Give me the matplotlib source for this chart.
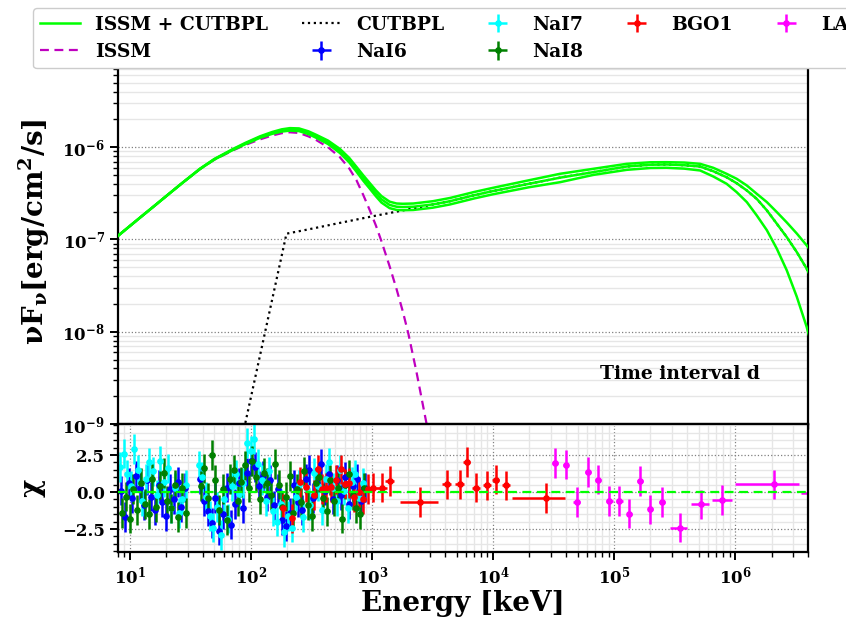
import matplotlib
matplotlib.use("Agg")
import matplotlib.pyplot as plt
import numpy as np

# ---------------- data ----------------
# model curves: energies (keV) and log10(nuFnu [erg/cm^2/s])
green_e = [8, 10, 12.5, 16, 20, 27, 38, 50, 71, 90, 119, 150, 180, 210, 250, 300, 350,
           434, 544, 650, 747, 850, 962, 1080, 1200, 1400, 1600, 1800, 2200, 3190, 4420,
           7000, 1e4, 2e4, 3.58e4, 6.74e4, 1.27e5, 2e5, 2.72e5, 3.8e5, 5.14e5, 6.6e5,
           8.5e5, 1.03e6, 1.25e6, 1.51e6, 1.83e6, 2.21e6, 2.67e6, 3.23e6, 3.9e6, 4.2e6]
green_mid = [-6.96, -6.855, -6.75, -6.635, -6.53, -6.39, -6.235, -6.13, -6.025, -5.96,
             -5.89, -5.845, -5.818, -5.806, -5.81, -5.843, -5.885, -5.947, -6.04, -6.14,
             -6.24, -6.335, -6.42, -6.50, -6.565, -6.625, -6.645, -6.648, -6.645, -6.62,
             -6.585, -6.52, -6.475, -6.395, -6.33, -6.27, -6.209, -6.19, -6.187, -6.195,
             -6.209, -6.26, -6.325, -6.39, -6.469, -6.56, -6.685, -6.829, -6.974, -7.136,
             -7.316, -7.40]
green_up = [-6.96, -6.855, -6.75, -6.635, -6.53, -6.39, -6.233, -6.127, -6.02, -5.953,
            -5.882, -5.835, -5.806, -5.793, -5.796, -5.828, -5.868, -5.928, -6.018, -6.116,
            -6.214, -6.306, -6.39, -6.468, -6.53, -6.59, -6.61, -6.613, -6.61, -6.585,
            -6.55, -6.485, -6.44, -6.357, -6.288, -6.234, -6.18, -6.163, -6.162, -6.166,
            -6.18, -6.223, -6.288, -6.342, -6.415, -6.505, -6.595, -6.703, -6.815, -6.935,
            -7.064, -7.12]
green_lo = [-6.96, -6.855, -6.75, -6.635, -6.53, -6.39, -6.237, -6.133, -6.03, -5.967,
            -5.898, -5.855, -5.83, -5.82, -5.825, -5.858, -5.90, -5.965, -6.062, -6.164,
            -6.266, -6.364, -6.45, -6.532, -6.60, -6.66, -6.68, -6.683, -6.68, -6.655,
            -6.62, -6.555, -6.51, -6.433, -6.379, -6.30, -6.245, -6.225, -6.223, -6.232,
            -6.252, -6.317, -6.396, -6.487, -6.595, -6.74, -6.90, -7.10, -7.334, -7.62,
            -7.948, -8.10]

issm_e = [8, 10, 12.5, 16, 20, 27, 38, 50, 71, 90, 119, 150, 180, 210, 250, 300, 350,
          434, 544, 650, 747, 850, 962, 1080, 1200, 1400, 1600, 1800, 2000, 2330, 2830, 3200]
issm_v = [-6.96, -6.855, -6.75, -6.635, -6.53, -6.39, -6.237, -6.135, -6.035, -5.975,
          -5.915, -5.873, -5.848, -5.838, -5.845, -5.883, -5.925, -6.0, -6.108, -6.23,
          -6.36, -6.52, -6.685, -6.85, -7.02, -7.29, -7.54, -7.78, -8.02, -8.43, -9.0, -9.4]

cut_e = [80, 197, 300, 500, 1000, 1800, 3190, 4420, 7000, 1e4, 2e4, 3.58e4, 6.74e4,
         1.27e5, 2e5, 2.72e5, 3.8e5, 5.14e5, 6.6e5, 8.5e5, 1.03e6, 1.25e6, 1.51e6,
         1.83e6, 2.21e6, 2.67e6, 3.23e6, 3.9e6, 4.2e6]
cut_v = [-9.3, -6.937, -6.89, -6.83, -6.75, -6.685, -6.62, -6.585, -6.52, -6.475, -6.395,
         -6.33, -6.27, -6.209, -6.19, -6.187, -6.195, -6.209, -6.26, -6.325, -6.39, -6.469,
         -6.56, -6.685, -6.829, -6.974, -7.136, -7.316, -7.40]

# residuals (chi)
nai6_e = [8.5, 9.1, 9.8, 10.5, 11.3, 12.1, 13.0, 14.0, 15.0, 16.1, 17.3, 18.6, 20.0, 21.5,
          23.1, 24.8, 26.6, 28.6,
          38, 41, 44, 47.5, 51, 55, 59, 63.5, 68.5, 74, 80, 86, 93, 100, 108, 116, 125,
          135, 145, 156, 168, 181, 195, 210, 226, 244, 263, 283, 305, 329, 354, 382, 412,
          444, 478, 515, 555, 598, 645, 695, 749, 807, 870]
nai6_r = [0.1, -1.7, 0.6, -0.4, 1.1, 0.3, -0.9, 0.8, -0.3, -1.2, 0.5, -0.7, -1.6, 0.2,
          -0.5, 0.7, -1.0, 0.3,
          0.9, -0.6, -1.3, -2.1, -0.4, -2.6, -1.5, 0.3, -2.2, -0.8, 0.6, -1.1, 1.3, 2.1,
          1.7, 0.4, 1.1, -0.3, 0.8, -0.9, 0.2, -1.9, -2.3, -1.4, 0.5, -0.7, -1.2, 0.9, 1.5,
          -0.4, 0.6, 1.9, 0.1, 1.2, -0.5, 0.8, -0.2, 1.0, -0.8, 0.4, 0.9, -0.6, 0.3]

nai7_e = [8.3, 8.9, 9.5, 10.2, 10.9, 11.7, 12.6, 13.5, 14.5, 15.6, 16.7, 17.9, 19.2, 20.6,
          22.1, 23.7, 25.4, 27.2, 29.1,
          37, 39.7, 42.6, 45.7, 49, 52.6, 56.5, 60.6, 65, 70, 75, 80.5, 86.5, 93, 99.8, 107,
          115, 123.5, 132.5, 142, 152.5, 164, 176, 189, 203, 218, 234, 251, 270, 290, 311,
          334, 359, 385, 414, 444, 477, 512, 550, 590, 634, 681, 731, 785, 843]
nai7_r = [1.7, 2.6, 1.2, 0.4, 2.9, 1.5, -0.6, 0.9, 2.0, 1.4, -0.2, 2.1, 0.7, 1.6, -1.1,
          0.3, -1.4, -0.5, 0.5,
          1.8, 1.0, -0.3, -1.6, -2.4, -1.0, -2.9, -0.5, -1.8, 0.4, 1.2, -0.1, 0.6, 3.3, 2.8,
          3.6, 1.9, 0.8, -0.6, 1.4, -1.3, -2.0, -0.8, -2.7, -1.6, -2.4, -0.3, 0.5, -1.7,
          0.2, -0.9, 1.3, 0.4, -1.2, 0.9, 2.0, 0.3, -0.6, 1.5, 0.1, -1.1, 0.7, 1.2, -0.4, 0.6]

nai8_e = [8.7, 9.3, 10.0, 10.7, 11.5, 12.4, 13.3, 14.3, 15.4, 16.5, 17.7, 19.0, 20.4, 21.9,
          23.5, 25.2, 27.0, 28.9,
          38.5, 41.3, 44.3, 47.5, 51, 54.8, 58.8, 63, 67.6, 72.5, 77.8, 83.5, 89.6, 96.2,
          103.2, 110.8, 118.9, 127.6, 137, 147, 157.7, 169.3, 181.7, 195, 209, 224.5, 241,
          258.6, 277.5, 297.8, 319.6, 343, 368, 395, 424, 455, 488, 524, 562, 603, 647,
          695, 746, 800, 859]
nai8_r = [-1.4, -0.3, -1.8, 0.2, -1.2, 0.6, -0.8, -1.5, 0.9, -1.0, 0.4, 1.3, -0.6, -1.1,
          0.5, -1.7, 0.3, -1.4,
          0.4, 1.6, -0.4, 2.5, 0.8, -1.2, 0.2, -1.9, 0.9, 1.5, -0.6, 0.7, 1.8, 0.3, 2.1,
          1.0, -0.5, 1.3, 0.6, -0.2, 1.9, 0.5, -1.0, -0.3, 1.1, -1.4, 0.2, -0.7, 1.4, -0.9,
          -1.6, 0.6, 1.0, -0.4, -1.3, 0.8, -0.6, 0.3, -1.8, 0.5, 1.2, -0.2, -1.1, -1.5, 0.3]

bgo_e = [184, 217, 254, 288, 330, 357, 385, 420, 460, 510, 556, 605, 650, 710, 780, 840,
         925, 1020, 1220, 1400, 2500, 4140, 5330, 6050, 7240, 8980, 1.05e4, 1.28e4, 2.72e4]
bgo_r = [-1.1, -1.78, 0.68, 0.34, -0.2, 1.53, 0.2, 0.3, 0.34, 0.84, 1.53, 0.57, 0.6,
         -0.34, 0.0, -0.45, 0.2, 0.3, 0.3, 0.74, -0.68, 0.52, 0.52, 2.03, 0.3, 0.45,
         0.84, 0.45, -0.4]
bgo_lo = [176, 207, 243, 275, 315, 342, 368, 401, 440, 487, 531, 578, 621, 678, 745, 802,
          884, 930, 1110, 1290, 1700, 3800, 4900, 5700, 6700, 8300, 9.8e3, 1.19e4, 1.43e4]
bgo_hi = [193, 227, 266, 302, 345, 374, 403, 440, 482, 534, 582, 634, 681, 744, 817, 880,
          970, 1120, 1330, 1520, 3500, 4500, 5750, 6400, 7800, 9700, 1.13e4, 1.38e4, 3.9e4]

lat_e = [3.27e4, 4.0e4, 4.9e4, 6.1e4, 7.4e4, 9.1e4, 1.1e5, 1.34e5, 1.64e5, 2.0e5, 2.5e5,
         3.5e5, 5.2e5, 7.8e5, 2.1e6, 6.0e6]
lat_r = [1.96, 1.85, -0.68, 1.35, 0.84, -0.61, -0.61, -1.46, 0.75, -1.17, -0.68, -2.4,
         -0.84, -0.52, 0.52, -0.05]
lat_lo = [3.1e4, 3.8e4, 4.6e4, 5.8e4, 7.0e4, 8.5e4, 1.03e5, 1.27e5, 1.56e5, 1.9e5,
          2.35e5, 2.9e5, 4.3e5, 6.5e5, 1.0e6, 3.5e6]
lat_hi = [3.45e4, 4.2e4, 5.2e4, 6.4e4, 7.8e4, 9.8e4, 1.18e5, 1.42e5, 1.72e5, 2.1e5,
          2.65e5, 4.0e5, 6.1e5, 9.5e5, 3.4e6, 1e7]

legend_labels = ["ISSM + CUTBPL", "ISSM", "CUTBPL", "NaI6", "NaI7", "NaI8", "BGO1", "LAT"]
xlim = (8, 4e6)
ylim_main = (1e-9, 1e-5)
ylim_res = (-4.05, 4.6)

# ---------------- style ----------------
plt.rcParams.update({
    "font.family": "DejaVu Serif",
    "font.weight": "bold",
    "axes.labelweight": "bold",
    "mathtext.fontset": "dejavuserif",
    "mathtext.default": "bf",
    "axes.linewidth": 1.6,
})

fig = plt.figure(figsize=(8.46, 6.24), dpi=100)
ax = fig.add_axes([0.1395, 0.3205, 0.8156, 0.5914])
axr = fig.add_axes([0.1395, 0.1154, 0.8156, 0.2051], sharex=ax)

lime = "#00ff00"

# ---------------- main panel ----------------
ge = np.array(green_e)
h_g, = ax.plot(ge, 10 ** np.array(green_mid), color=lime, lw=1.8, zorder=3)
ax.plot(ge, 10 ** np.array(green_up), color=lime, lw=1.8, zorder=3)
ax.plot(ge, 10 ** np.array(green_lo), color=lime, lw=1.8, zorder=3)
h_i, = ax.plot(issm_e, 10 ** np.array(issm_v), color="m", ls="--", lw=1.6,
               dashes=(4, 2.5), zorder=2)
h_c, = ax.plot(cut_e, 10 ** np.array(cut_v), color="k", ls=":", lw=1.6, zorder=2)

ax.set_xscale("log")
ax.set_yscale("log")
ax.set_xlim(*xlim)
ax.set_ylim(*ylim_main)
ax.grid(True, which="major", axis="y", color="gray", ls=":", lw=0.9)
ax.grid(True, which="minor", axis="y", color="#e6e6e6", ls="-", lw=1.0)
ax.tick_params(axis="both", which="major", direction="out", length=6, width=1.4, labelsize=12)
ax.tick_params(axis="both", which="minor", direction="out", length=3.5, width=1.0)
ax.tick_params(axis="x", labelbottom=False)
ax.set_ylabel(r"$\mathbf{\nu F_{\nu} [erg/cm^2/s]}$", fontsize=20)
ax.yaxis.set_label_coords(-0.096, 0.52)
ax.text(0.699, 0.135, "Time interval d", transform=ax.transAxes, fontsize=13.5,
        fontweight="bold", ha="left", va="center")

# ---------------- residual panel ----------------
def eb(e, r, lo, hi, color, label):
    e = np.array(e, dtype=float)
    xerr = [e - np.array(lo, dtype=float), np.array(hi, dtype=float) - e]
    return axr.errorbar(e, r, yerr=1.0, xerr=xerr, fmt="o", ms=3.8, color=color,
                        ecolor=color, elinewidth=1.8, capsize=0, label=label)

def eb_rel(e, r, color, label):
    e = np.array(e, dtype=float)
    return eb(e, r, e / 1.035, e * 1.035, color, label)

h6 = eb_rel(nai6_e, nai6_r, "b", legend_labels[3])
h7 = eb_rel(nai7_e, nai7_r, "cyan", legend_labels[4])
h8 = eb_rel(nai8_e, nai8_r, "g", legend_labels[5])
hb = eb(bgo_e, bgo_r, bgo_lo, bgo_hi, "r", legend_labels[6])
hl = eb(lat_e, lat_r, lat_lo, lat_hi, "magenta", legend_labels[7])
axr.axhline(0, color=lime, ls="--", lw=1.6, dashes=(4, 2.5), zorder=5)

axr.set_ylim(*ylim_res)
axr.set_yticks([-2.5, 0.0, 2.5])
axr.set_yticks(np.arange(-4.0, 4.6, 0.5), minor=True)
axr.grid(True, which="major", color="gray", ls=":", lw=0.9)
axr.grid(True, which="minor", color="#e6e6e6", ls="-", lw=1.0)
axr.tick_params(axis="both", which="major", direction="out", length=6, width=1.4, labelsize=12)
axr.tick_params(axis="both", which="minor", direction="out", length=3.5, width=1.0)
axr.set_xlabel("Energy [keV]", fontsize=20, labelpad=2)
axr.set_ylabel("χ", fontsize=20, labelpad=12)
ax.set_axisbelow(True)
axr.set_axisbelow(True)

# ---------------- legend ----------------
handles = [h_g, h_i, h_c, h6, h7, h8, hb, hl]
fig.legend(handles, legend_labels, ncol=5, loc="upper left",
           bbox_to_anchor=(0.039, 0.987), borderaxespad=0.0,
           prop={"family": "DejaVu Serif", "weight": "bold", "size": 13.5},
           frameon=True, fancybox=True, framealpha=1.0, edgecolor="#cccccc",
           columnspacing=1.8, handlelength=2.1, labelspacing=0.5)

fig.savefig("out.png", dpi=100)
